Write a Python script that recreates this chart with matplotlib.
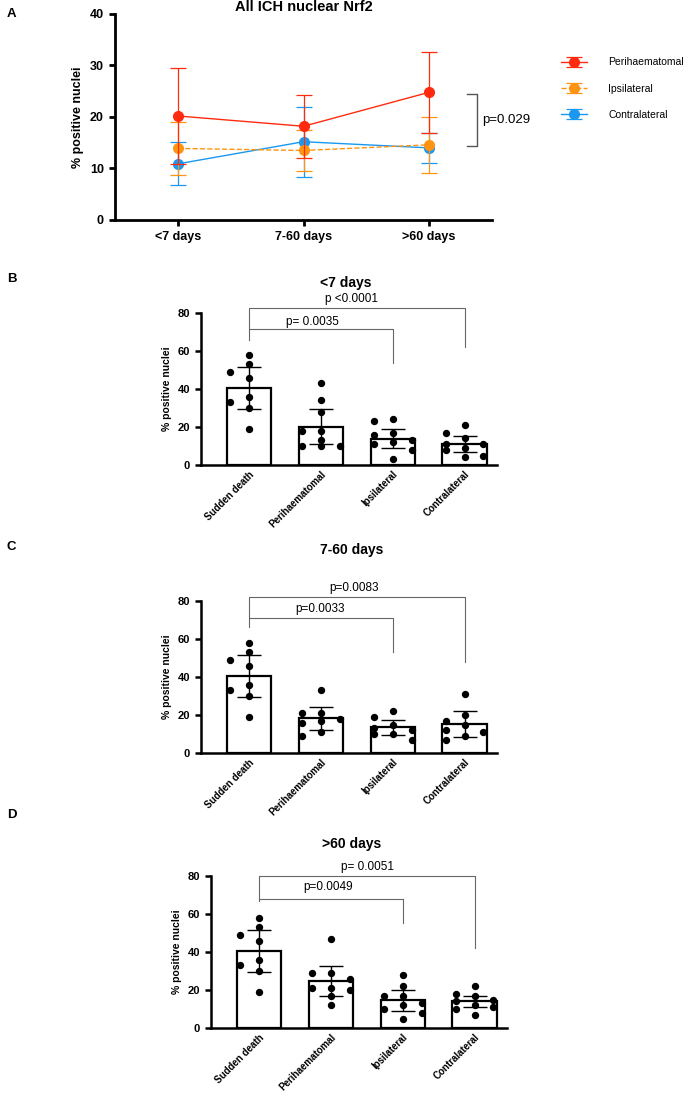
import numpy as np
import matplotlib
matplotlib.use("Agg")
import matplotlib.pyplot as plt

plt.rcParams['font.family'] = ['Liberation Sans', 'DejaVu Sans']

# --- Panel A data (mean, SD) ---
timepoints = ['<7 days', '7-60 days', '>60 days']
peri_mean = [20.2, 18.2, 24.8]
peri_sd = [9.4, 6.1, 7.9]
ipsi_mean = [13.9, 13.5, 14.6]
ipsi_sd = [5.2, 4.0, 5.4]
contra_mean = [10.9, 15.2, 14.0]
contra_sd = [4.2, 6.8, 2.9]

# --- Bar panels data ---
groups = ['Sudden death', 'Perihaematomal', 'Ipsilateral', 'Contralateral']
sudden_pts = [58, 53, 49, 46, 36, 33, 30, 19]

b_pts = [sudden_pts,
         [43, 34, 28, 18, 18, 13, 10, 10, 10],
         [24, 23, 17, 16, 13, 12, 11, 8, 3],
         [21, 17, 14, 11, 11, 9, 8, 5, 4]]
b_mean = [40.5, 20.2, 13.9, 10.9]
b_sd = [11.0, 9.4, 5.2, 4.2]

c_pts = [sudden_pts,
         [33, 21, 21, 18, 17, 16, 11, 9],
         [22, 19, 15, 13, 12, 10, 10, 7],
         [31, 20, 17, 15, 12, 11, 9, 7]]
c_mean = [40.5, 18.2, 13.5, 15.2]
c_sd = [11.0, 6.1, 4.1, 6.8]

d_pts = [sudden_pts,
         [47, 29, 29, 26, 21, 21, 20, 17, 12],
         [28, 22, 17, 17, 13, 12, 10, 8, 5],
         [22, 18, 17, 15, 14, 12, 11, 10, 7]]
d_mean = [40.5, 24.8, 14.6, 14.0]
d_sd = [11.0, 7.9, 5.4, 2.9]

b_p = ['p <0.0001', 'p= 0.0035']
c_p = ['p=0.0083', 'p=0.0033']
d_p = ['p= 0.0051', 'p=0.0049']

RED = '#FF2B0F'
ORANGE = '#FF9412'
BLUE = '#1A98F0'

fig = plt.figure(figsize=(6.95, 11.08), dpi=100)


def style_axes(ax, lw=1.6):
    for s in ['top', 'right']:
        ax.spines[s].set_visible(False)
    for s in ['left', 'bottom']:
        ax.spines[s].set_linewidth(lw)
    ax.tick_params(width=lw, length=4.5)


# ---------------- Panel A ----------------
axA = fig.add_axes([115 / 695, 1 - 220 / 1108, 377 / 695, 206 / 1108])
x = np.arange(len(timepoints))
axA.errorbar(x, contra_mean, yerr=contra_sd, color=BLUE, marker='o', ms=7,
             lw=1, capsize=6, elinewidth=0.9, capthick=0.9, zorder=3,
             label='Contralateral')
axA.errorbar(x, ipsi_mean, yerr=ipsi_sd, color=ORANGE, marker='o', ms=7,
             lw=1, ls='--', capsize=6, elinewidth=0.9, capthick=0.9, zorder=4,
             label='Ipsilateral')
axA.errorbar(x, peri_mean, yerr=peri_sd, color=RED, marker='o', ms=7,
             lw=1, capsize=6, elinewidth=0.9, capthick=0.9, zorder=5,
             label='Perihaematomal')
axA.set_xlim(-0.5, 2.5)
axA.set_ylim(0, 40)
axA.set_yticks([0, 10, 20, 30, 40])
axA.set_xticks(x)
axA.set_xticklabels(timepoints, fontsize=9, fontweight='bold')
for t in axA.get_yticklabels():
    t.set_fontsize(9)
    t.set_fontweight('bold')
axA.set_ylabel('% positive nuclei', fontsize=9, fontweight='bold')
axA.set_title('All ICH nuclear Nrf2', fontsize=10.5, fontweight='bold', pad=2)
style_axes(axA, lw=2)

# p bracket
axA.plot([2.3, 2.38, 2.38, 2.3], [24.5, 24.5, 14.4, 14.4], color='#555555',
         lw=1, clip_on=False)
axA.text(2.42, 19.5, 'p=0.029', fontsize=9.5, va='center', ha='left')

h, l = axA.get_legend_handles_labels()
fig.legend(h[::-1], l[::-1], loc='upper left',
           bbox_to_anchor=(552 / 695, 1 - 48 / 1108), frameon=False,
           fontsize=7.5, labelspacing=1.55, handlelength=2.5, handletextpad=2.0)


# ---------------- Bar panels ----------------
def swarm(vals, xc, dx=0.26, px_x=72.0, px_y=1.9, dmin=8.5):
    placed = []
    out = []
    for v in vals:
        best, best_d = 0, -1
        for off in [0, -dx, dx]:
            dists = [np.hypot((xc + off - px) * px_x, (v - py) * px_y)
                     for (px, py) in placed]
            m = min(dists) if dists else 1e9
            if m >= dmin:
                best = off
                break
            if m > best_d:
                best, best_d = off, m
        placed.append((xc + best, v))
        out.append(xc + best)
    return out


def bar_panel(rect, title, title_xy, pts, means, sds, ptexts, ptext_xy,
              top_y, low_y, legs):
    ax = fig.add_axes(rect)
    xs = np.arange(len(groups))
    ax.bar(xs, means, width=0.62, color='white', edgecolor='black',
           linewidth=1.6, zorder=2)
    for i, vals in enumerate(pts):
        ax.scatter(swarm(vals, xs[i]), vals, s=28, color='black', zorder=4,
                   linewidths=0)
    ax.errorbar(xs, means, yerr=sds, fmt='none', ecolor='black',
                elinewidth=1, capsize=8.5, capthick=1, zorder=5)
    ax.set_xlim(-0.67, 3.45)
    ax.set_ylim(0, 80)
    ax.set_yticks([0, 20, 40, 60, 80])
    ax.set_xticks(xs)
    ax.set_xticklabels(groups, rotation=45, ha='right', rotation_mode='anchor',
                       fontsize=7, fontweight='bold')
    for t in ax.get_yticklabels():
        t.set_fontsize(8)
        t.set_fontweight('bold')
    ax.set_ylabel('% positive nuclei', fontsize=7.5, fontweight='bold')
    style_axes(ax, lw=1.8)
    ax.tick_params(axis='x', length=0, pad=3)
    ax.text(title_xy[0], title_xy[1], title, transform=ax.transAxes,
            fontsize=10, fontweight='bold', ha='center', va='center')
    gc = '#666666'
    left_end, ipsi_end, contra_end = legs
    ax.plot([0, 0, 3, 3], [left_end, top_y, top_y, contra_end], color=gc,
            lw=0.8, clip_on=False)
    ax.plot([0, 2, 2], [low_y, low_y, ipsi_end], color=gc, lw=0.8,
            clip_on=False)
    ax.text(ptext_xy[0][0], ptext_xy[0][1], ptexts[0], fontsize=8.5,
            ha='center', va='center')
    ax.text(ptext_xy[1][0], ptext_xy[1][1], ptexts[1], fontsize=8.5,
            ha='center', va='center')
    return ax


bar_panel([201 / 695, 1 - 465 / 1108, 296 / 695, 152 / 1108], '<7 days',
          (0.49, 1.20), b_pts, b_mean, b_sd, b_p,
          [(1.42, 87.4), (0.875, 75.3)], 82.6, 71.5, (66, 53.7, 62))
bar_panel([201 / 695, 1 - 753 / 1108, 296 / 695, 152 / 1108], '7-60 days',
          (0.51, 1.335), c_pts, c_mean, c_sd, c_p,
          [(1.46, 87.0), (0.99, 75.8)], 82, 71, (66.5, 53, 48))
bar_panel([211 / 695, 1 - 1028 / 1108, 296 / 695, 152 / 1108], '>60 days',
          (0.476, 1.21), d_pts, d_mean, d_sd, d_p,
          [(1.51, 84.9), (0.96, 74.2)], 80, 68, (67, 55.4, 42))

# panel letters
for letter, yp in [('A', 14), ('B', 279), ('C', 547), ('D', 815)]:
    fig.text(7 / 695, 1 - yp / 1108, letter, fontsize=9.5, fontweight='bold',
             ha='left', va='center')

fig.savefig('out.png', dpi=100)
